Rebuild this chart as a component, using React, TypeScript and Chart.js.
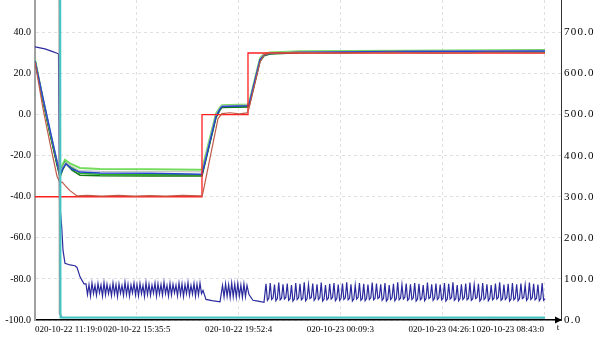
import React, { useEffect, useRef } from "react";
import { Chart, registerables } from "chart.js";

Chart.register(...registerables);

// ---- axis data ----
const X_TICK_HOURS = [0, 4.2806, 8.5611, 12.8417, 17.1222, 21.4028];
const X_TICK_LABELS = [
  "020-10-22 11:19:0",
  "020-10-22 15:35:5",
  "020-10-22 19:52:4",
  "020-10-23 00:09:3",
  "020-10-23 04:26:1",
  "020-10-23 08:43:0",
];
const X_MAX = 22.115;
const LEFT_TICKS = [-100, -80, -60, -40, -20, 0, 20, 40];
const LEFT_MIN = -100;
const LEFT_MAX = 55.8;
const RIGHT_TICKS = [0, 100, 200, 300, 400, 500, 600, 700];
const RIGHT_MIN = 0;
const RIGHT_MAX = 779;

// ---- series (time in hours, value) ----
const setpointT = [0, 7.021, 7.021, 8.955, 8.955, 21.442];
const setpointV = [-40, -40, 0, 0, 30, 30];

const brownT = [0, 0.336, 0.631, 0.925, 1.051, 1.135, 1.261, 1.471, 1.766, 2.2, 2.8, 3.5, 4.2, 4.835, 5.5, 6.2, 6.937, 7.021, 7.063, 7.694, 7.862, 8.2, 8.6, 8.913, 8.997, 9.46, 9.628, 9.88, 11.0, 13.0, 15.0, 17.0, 19.0, 21.442];
const brownV = [25.5, 3.0, -14.0, -30.0, -33.3, -32.8, -34.5, -37.0, -39.6, -39.3, -39.7, -39.3, -39.7, -39.4, -39.7, -39.3, -39.6, -39.6, -38.0, -2.0, 0.5, 0.9, 0.4, 0.8, 3.0, 25.5, 29.0, 29.8, 30.3, 29.9, 30.3, 29.9, 30.3, 30.2];

const lightGreenT = [0, 0.336, 0.631, 0.925, 1.03, 1.135, 1.261, 1.472, 1.892, 2.733, 4.835, 6.937, 7.021, 7.61, 7.778, 7.862, 8.913, 8.997, 9.46, 9.628, 9.88, 11.141, 15.346, 21.442];
const lightGreenV = [26.8, 7.5, -8.5, -23.0, -27.5, -25.0, -22.0, -23.8, -26.0, -26.5, -26.6, -26.8, -26.8, 0.5, 3.5, 4.6, 4.9, 5.5, 27.5, 29.6, 30.3, 30.8, 31.1, 31.5];

const grayLineT = [0, 0.336, 0.631, 0.925, 1.04, 1.156, 1.282, 1.514, 1.892, 2.733, 4.835, 6.937, 7.021, 7.61, 7.778, 7.862, 8.913, 8.997, 9.46, 9.628, 9.88, 11.141, 15.346, 21.442];
const grayLineV = [26.5, 7.8, -8.0, -23.0, -28.5, -25.5, -23.2, -25.0, -27.3, -27.6, -27.7, -27.9, -27.9, 0.0, 3.2, 4.4, 4.6, 5.1, 27.2, 29.3, 30.1, 30.6, 30.9, 31.3];

const blueT = [0, 0.336, 0.631, 0.925, 1.051, 1.177, 1.303, 1.556, 1.892, 2.733, 4.835, 6.937, 7.021, 7.61, 7.778, 7.862, 8.913, 8.997, 9.46, 9.628, 9.88, 11.141, 15.346, 21.442];
const blueV = [26.2, 8.0, -7.5, -23.0, -29.5, -26.0, -24.0, -26.5, -28.0, -28.4, -28.6, -29.0, -29.0, -0.8, 2.8, 4.0, 4.3, 4.8, 26.8, 29.0, 29.8, 30.3, 30.7, 31.0];

const greenT = [0, 0.336, 0.631, 0.925, 1.03, 1.135, 1.261, 1.472, 1.892, 2.733, 4.835, 6.937, 7.021, 7.61, 7.778, 7.862, 8.913, 8.997, 9.46, 9.628, 9.88, 11.141, 15.346, 21.442];
const greenV = [26.4, 7.0, -9.0, -24.0, -29.0, -26.0, -23.0, -25.0, -28.5, -29.0, -29.1, -29.3, -29.3, -1.0, 2.6, 3.8, 4.0, 4.6, 26.5, 28.9, 29.8, 30.4, 30.8, 31.2];

const darkGreenT = [0, 0.336, 0.631, 0.925, 1.051, 1.177, 1.303, 1.556, 1.892, 2.733, 4.835, 6.937, 7.021, 7.61, 7.778, 7.862, 8.913, 8.997, 9.46, 9.628, 9.88, 11.141, 15.346, 21.442];
const darkGreenV = [26.2, 6.8, -9.2, -24.5, -30.5, -26.5, -23.8, -27.0, -29.5, -29.8, -29.9, -29.9, -29.9, -1.5, 2.2, 3.4, 3.7, 4.2, 26.0, 28.6, 29.5, 30.1, 30.6, 31.1];

// right-axis series
const cyanT = [0, 1.051, 1.072, 21.442];
const cyanV = [1300, 1300, 6, 6];

const grayDropT = [0, 1.009, 1.03, 1.093, 1.135, 21.442];
const grayDropV = [1300, 1300, 15, 12, 6, 5];

const navyHeadT = [0, 0.42, 0.715, 0.988, 1.03, 1.123, 1.177, 1.261, 1.471, 1.682, 1.766, 1.892, 2.06];
const navyHeadV = [665, 660, 654, 648, 292, 226, 170, 138, 134, 132, 128, 105, 88];
const navyOsc1Span = [2.144, 7.0];
const navyOsc1V = [88, 62, 86, 58, 90, 64, 84, 60, 89, 66, 85, 58, 91, 61, 87, 64, 83, 59, 90, 63, 86, 57, 88, 65, 84, 60, 92, 62, 87, 58, 85, 66, 90, 61, 86, 59, 89, 64, 84, 57, 91, 62, 87, 60, 85, 65, 90, 58, 88, 63, 86, 60, 92, 64, 84, 58, 89, 61, 87, 66, 85, 59, 90, 62, 88, 57, 86, 64, 91, 60, 84, 63, 89, 58, 87, 61, 90, 64];
const navyDrop1T = [7.063, 7.189, 7.442, 7.778];
const navyDrop1V = [72, 50, 47, 44];
const navyOsc2Span = [7.82, 8.913];
const navyOsc2V = [60, 84, 56, 88, 58, 86, 55, 90, 57, 87, 56, 89, 58, 85, 55, 88, 57, 84];
const navyDrop2T = [8.997, 9.165, 9.375, 9.628];
const navyDrop2V = [62, 48, 46, 43];
const navyOsc3Span = [9.712, 21.442];
const navyOsc3V = [
  88, 48, 53, 90, 50, 54, 86, 47, 52, 91, 49, 53, 87, 51, 55, 89, 48, 52, 85, 46, 51, 90, 50, 54, 88, 49, 53, 92, 47, 52,
  86, 52, 55, 89, 48, 53, 87, 50, 54, 91, 46, 51, 85, 49, 53, 88, 51, 55, 90, 47, 52, 86, 48, 53, 89, 50, 54, 92, 49, 53,
  87, 46, 51, 85, 51, 55, 90, 48, 52, 88, 47, 52, 86, 50, 54, 91, 49, 53, 89, 52, 55, 87, 48, 53, 90, 46, 51, 85, 50, 54,
  88, 47, 52, 92, 49, 53, 86, 51, 55, 89, 48, 52, 87, 50, 54, 90, 46, 51, 88, 49, 53, 85, 47, 52, 91, 52, 55, 87, 48, 53,
  89, 50, 54, 86, 49, 53, 90, 46, 51, 88, 51, 55, 92, 48, 52, 85, 47, 52, 87, 50, 54, 89, 49, 53, 91, 48, 52, 86, 52, 55,
  88, 46, 51, 90, 50, 54, 87, 47, 52, 85, 49, 53, 89, 51, 55, 92, 48, 52, 86, 50, 54, 88, 46, 51, 90, 49, 53, 87, 47, 52,
  89, 52, 55, 85, 48, 53, 91, 50, 54, 88, 49, 53, 86, 47, 52, 90, 48, 52,
];

const pts = (t: number[], v: number[]) => t.map((x, i) => ({ x, y: v[i] }));
const sampled = (span: number[], v: number[]) =>
  v.map((y, i) => ({ x: span[0] + ((span[1] - span[0]) * i) / (v.length - 1), y }));

const FONT = "'Liberation Serif', 'Times New Roman', serif";

const arrowPlugin = {
  id: "axisArrow",
  afterDraw(chart: any) {
    const { ctx, chartArea } = chart;
    ctx.save();
    ctx.fillStyle = "#000";
    ctx.beginPath();
    ctx.moveTo(chartArea.right + 1, chartArea.bottom);
    ctx.lineTo(chartArea.right - 6, chartArea.bottom - 3.5);
    ctx.lineTo(chartArea.right - 6, chartArea.bottom + 3.5);
    ctx.closePath();
    ctx.fill();
    ctx.font = "9px " + FONT;
    ctx.textAlign = "center";
    ctx.textBaseline = "middle";
    ctx.fillText("t", chartArea.right - 3, chartArea.bottom + 8);
    // right-axis labels (wide, clipped by the canvas edge)
    const s = chart.scales.yR;
    ctx.font = "11px " + FONT;
    ctx.textAlign = "left";
    (ctx as any).letterSpacing = "1.2px";
    s.ticks.forEach((t: any) => {
      const y = s.getPixelForValue(t.value);
      ctx.fillText(Number(t.value).toFixed(1), chartArea.right + 3, y);
    });
    (ctx as any).letterSpacing = "0px";
    ctx.restore();
  },
};

export default function App() {
  const ref = useRef<HTMLCanvasElement>(null);
  useEffect(() => {
    document.body.style.margin = "0";
    const line = (data: any[], color: string, width: number, axis: string) => ({
      data,
      borderColor: color,
      backgroundColor: color,
      borderWidth: width,
      pointRadius: 0,
      tension: 0,
      yAxisID: axis,
    });
    const navyData = [
      ...pts(navyHeadT, navyHeadV),
      ...sampled(navyOsc1Span, navyOsc1V),
      ...pts(navyDrop1T, navyDrop1V),
      ...sampled(navyOsc2Span, navyOsc2V),
      ...pts(navyDrop2T, navyDrop2V),
      ...sampled(navyOsc3Span, navyOsc3V),
    ];
    const chart = new Chart(ref.current as HTMLCanvasElement, {
      type: "line",
      data: {
        datasets: [
          line(pts(cyanT, cyanV), "#44c4c4", 2, "yR"),
          line(pts(grayDropT, grayDropV), "#9a9a9a", 1.5, "yR"),
          line(navyData, "#2a2a9e", 1.2, "yR"),
          line(pts(brownT, brownV), "#c05a48", 1.2, "y"),
          line(pts(setpointT, setpointV), "#ff2020", 1.3, "y"),
          line(pts(blueT, blueV), "#2a46d0", 1.5, "y"),
          line(pts(grayLineT, grayLineV), "#c4c4c4", 1.2, "y"),
          line(pts(darkGreenT, darkGreenV), "#137a13", 1.5, "y"),
          line(pts(greenT, greenV), "#24b024", 1.5, "y"),
          line(pts(lightGreenT, lightGreenV), "#74dc5c", 2, "y"),
        ],
      },
      options: {
        animation: false,
        responsive: false,
        maintainAspectRatio: false,
        layout: { padding: 0 },
        plugins: { legend: { display: false }, tooltip: { enabled: false } },
        scales: {
          x: {
            type: "linear",
            min: 0,
            max: X_MAX,
            afterBuildTicks: (s: any) => {
              s.ticks = X_TICK_HOURS.map((value) => ({ value }));
            },
            afterFit: (s: any) => {
              s.height = 19;
              s.paddingLeft = 0;
              s.paddingRight = 0;
            },
            ticks: {
              autoSkip: false,
              maxRotation: 0,
              align: "inner",
              padding: 4,
              color: "#000",
              font: { family: FONT, size: 9 },
              callback: (_v: any, i: number) => X_TICK_LABELS[i],
            },
            grid: {
              color: "rgba(0,0,0,0.12)",
              drawTicks: false,
            },
            border: { color: "#000", width: 1.5, dash: [3, 3] },
          },
          y: {
            position: "left",
            min: LEFT_MIN,
            max: LEFT_MAX,
            afterBuildTicks: (s: any) => {
              s.ticks = LEFT_TICKS.map((value) => ({ value }));
            },
            afterFit: (s: any) => {
              s.width = 35;
              s.paddingTop = 0;
              s.paddingBottom = 0;
            },
            ticks: {
              padding: 4,
              color: "#000",
              font: { family: FONT, size: 10 },
              callback: (v: any) => Number(v).toFixed(1),
            },
            grid: { color: "rgba(0,0,0,0.12)", drawTicks: false },
            border: { color: "#a0a0a0", width: 2, dash: [3, 3] },
          },
          yR: {
            position: "right",
            min: RIGHT_MIN,
            max: RIGHT_MAX,
            afterBuildTicks: (s: any) => {
              s.ticks = RIGHT_TICKS.map((value) => ({ value }));
            },
            afterFit: (s: any) => {
              s.width = 39;
              s.paddingTop = 0;
              s.paddingBottom = 0;
            },
            ticks: { display: false },
            grid: { display: false, drawTicks: false },
            border: { color: "#333", width: 1 },
          },
        },
      },
      plugins: [arrowPlugin],
    } as any);
    return () => chart.destroy();
  }, []);
  return (
    <div style={{ width: 600, height: 339, background: "#fff" }}>
      <canvas ref={ref} width={600} height={339} style={{ display: "block" }} />
    </div>
  );
}
